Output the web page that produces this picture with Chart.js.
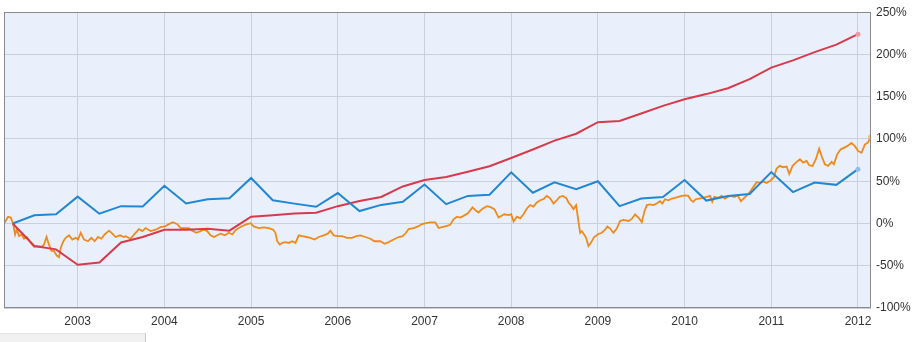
<!DOCTYPE html>
<html>
<head>
<meta charset="utf-8">
<script src="https://cdn.jsdelivr.net/npm/chart.js@4"></script>
<style>
    html, body { margin: 0; padding: 0; background: #fff; }
    #wrap { position: relative; width: 913px; height: 342px; }
    #scrollStub {
        position: absolute; left: 0; top: 333px; width: 145px; height: 9px;
        background: #f1f1f1; border-right: 1px solid #c8c8c8; border-top: 1px solid #e2e2e2;
    }
</style>
</head>
<body>
<div id="wrap">
    <canvas id="myChart" width="913" height="342"></canvas>
    <div id="scrollStub"></div>
</div>
<script>
// x axis in decimal years, y in percent change
const X_MIN = 2002.15;
const X_MAX = 2012.15;
const yearTicks = [2003, 2004, 2005, 2006, 2007, 2008, 2009, 2010, 2011, 2012];
const pctTicks = [-100, -50, 0, 50, 100, 150, 200, 250];

// quarter ends
const quarterYears = [
    2002.25, 2002.5, 2002.75, 2003.0, 2003.25, 2003.5, 2003.75, 2004.0,
    2004.25, 2004.5, 2004.75, 2005.0, 2005.25, 2005.5, 2005.75, 2006.0,
    2006.25, 2006.5, 2006.75, 2007.0, 2007.25, 2007.5, 2007.75, 2008.0,
    2008.25, 2008.5, 2008.75, 2009.0, 2009.25, 2009.5, 2009.75, 2010.0,
    2010.25, 2010.5, 2010.75, 2011.0, 2011.25, 2011.5, 2011.75, 2012.0
];

const bluePct = [
    0, 9.7, 10.8, 31.8, 11.6, 20.5, 20, 44.6,
    23.6, 28.7, 29.8, 53.8, 27.5, 23.5, 19.8, 36,
    14.7, 22, 25.6, 46.1, 22.9, 32.6, 34.1, 60.5,
    36.4, 48.8, 40.7, 50, 20.5, 29.5, 31.4, 51.5,
    27.1, 32.6, 34.9, 60.8, 37.2, 48.5, 45.7, 64.3
];

const redPct = [
    0, -26.7, -30.6, -48.8, -46.1, -22.5, -15.9, -7.4,
    -7.4, -6.2, -8.5, 8.1, 9.7, 11.8, 12.8, 20.5,
    26.7, 31.4, 43.8, 51.5, 55, 61.2, 67.8, 77.5,
    87.6, 98, 106.2, 119.8, 121.3, 130.2, 139.2, 146.9,
    153.1, 160.1, 170.9, 184.5, 193, 202.7, 211.6, 224
];

// daily price line
const dailyYears = [
    2002.151, 2002.197, 2002.228, 2002.255, 2002.278, 2002.297, 2002.324, 2002.351,
    2002.381, 2002.413, 2002.459, 2002.497, 2002.543, 2002.582, 2002.612, 2002.640,
    2002.669, 2002.697, 2002.727, 2002.758, 2002.785, 2002.804, 2002.835, 2002.862,
    2002.900, 2002.939, 2002.977, 2003.004, 2003.035, 2003.073, 2003.119, 2003.158,
    2003.196, 2003.234, 2003.273, 2003.311, 2003.361, 2003.400, 2003.438, 2003.487,
    2003.534, 2003.553, 2003.611, 2003.660, 2003.706, 2003.745, 2003.784, 2003.841,
    2003.899, 2003.956, 2004.006, 2004.052, 2004.098, 2004.149, 2004.187, 2004.236,
    2004.282, 2004.321, 2004.368, 2004.417, 2004.455, 2004.494, 2004.532, 2004.571,
    2004.610, 2004.648, 2004.697, 2004.743, 2004.783, 2004.820, 2004.859, 2004.905,
    2004.955, 2004.993, 2005.031, 2005.089, 2005.146, 2005.204, 2005.255, 2005.281,
    2005.301, 2005.331, 2005.358, 2005.396, 2005.435, 2005.474, 2005.512, 2005.550,
    2005.589, 2005.639, 2005.685, 2005.731, 2005.780, 2005.838, 2005.884, 2005.915,
    2005.953, 2005.999, 2006.050, 2006.107, 2006.165, 2006.214, 2006.261, 2006.318,
    2006.376, 2006.422, 2006.491, 2006.541, 2006.586, 2006.644, 2006.702, 2006.748,
    2006.787, 2006.817, 2006.875, 2006.925, 2006.971, 2007.018, 2007.067, 2007.125,
    2007.163, 2007.202, 2007.260, 2007.297, 2007.335, 2007.375, 2007.413, 2007.451,
    2007.501, 2007.554, 2007.585, 2007.623, 2007.670, 2007.720, 2007.770, 2007.808,
    2007.854, 2007.920, 2007.969, 2008.000, 2008.027, 2008.066, 2008.104, 2008.142,
    2008.181, 2008.219, 2008.257, 2008.296, 2008.334, 2008.372, 2008.411, 2008.450,
    2008.488, 2008.527, 2008.557, 2008.596, 2008.634, 2008.661, 2008.688, 2008.718,
    2008.749, 2008.776, 2008.795, 2008.815, 2008.841, 2008.864, 2008.891, 2008.918,
    2008.957, 2009.006, 2009.045, 2009.083, 2009.110, 2009.141, 2009.179, 2009.218,
    2009.256, 2009.294, 2009.352, 2009.391, 2009.429, 2009.467, 2009.506, 2009.536,
    2009.564, 2009.602, 2009.640, 2009.679, 2009.717, 2009.744, 2009.774, 2009.813,
    2009.852, 2009.890, 2009.928, 2009.967, 2010.005, 2010.043, 2010.074, 2010.100,
    2010.128, 2010.166, 2010.216, 2010.255, 2010.293, 2010.319, 2010.342, 2010.381,
    2010.428, 2010.466, 2010.497, 2010.535, 2010.573, 2010.612, 2010.650, 2010.688,
    2010.727, 2010.754, 2010.792, 2010.831, 2010.869, 2010.907, 2010.946, 2010.992,
    2011.030, 2011.061, 2011.099, 2011.137, 2011.177, 2011.207, 2011.246, 2011.292,
    2011.330, 2011.368, 2011.407, 2011.437, 2011.476, 2011.514, 2011.552, 2011.580,
    2011.618, 2011.656, 2011.695, 2011.722, 2011.759, 2011.799, 2011.837, 2011.875,
    2011.925, 2011.964, 2012.002, 2012.041, 2012.079, 2012.117, 2012.144
];

const dailyPct = [
    0, 8, 7, 0, -13, -7, -15, -13,
    -18, -16, -23, -27.5, -27, -27.5, -25, -16,
    -25, -32.5, -32.5, -38, -40, -29, -21, -17,
    -14, -19, -17, -19, -11, -19, -21, -17,
    -21, -16, -18, -13, -8.5, -12, -16, -14,
    -16, -15, -18, -12, -6.6, -9, -5.4, -9,
    -7.4, -4.3, -3.5, -0.8, 1.6, -0.8, -5.4, -5.4,
    -5.4, -8.5, -11, -9, -7.4, -9, -14, -16,
    -14, -12, -14, -11, -13, -8, -5.4, -2.7,
    -0.8, 0.4, -3.5, -5.4, -4.7, -5.4, -7.4, -11,
    -21, -25, -23, -22, -23, -21, -23, -14,
    -15, -16, -17, -19, -16, -14, -12, -8.5,
    -14, -15, -15, -17, -17, -15, -14, -16,
    -18, -21, -21, -24, -22, -19, -16, -15,
    -11, -6.6, -5.4, -3.5, -0.8, 0.4, 1.2, 1.2,
    -5.4, -4.3, -2.7, -1.6, 5, 8, 7, 9,
    12, 19, 16, 13, 17.5, 20.5, 19, 16.7,
    7, 10.9, 10, 11, 2.3, 8, 6, 11,
    17.8, 21.7, 20, 24.8, 27.5, 28.7, 32.6, 29.8,
    23.6, 27.5, 31.4, 32.6, 30.2, 24.8, 21.7, 17,
    21.7, 2.3, -11, -9, -13, -17, -26.7, -23,
    -16, -12.4, -11, -7.4, -3.5, -6, -11, -6,
    3, 4.3, 3, 5.4, 10.9, 7, 1.6, 14,
    21.7, 22.5, 21.7, 23.6, 26.4, 23.6, 28.7, 27.5,
    29.5, 30.2, 31.4, 32.6, 33.3, 32.6, 27.5, 25.6,
    28.7, 29.5, 30.2, 31.4, 32.6, 25.6, 31.4, 30.2,
    32.6, 29.5, 31.4, 32.6, 31.4, 33.3, 26.4, 30.2,
    34, 37.5, 43, 48.8, 48, 49.6, 48, 50.8,
    54.7, 65, 68.2, 66.6, 67.4, 58.5, 68.2, 72.9,
    76, 72, 74, 69, 68, 76, 88.4, 79.9,
    70.1, 68.2, 72.9, 70.1, 81.8, 87.6, 89.5, 91.5,
    95.3, 91.5, 85.7, 83.7, 93.4, 96, 102.3
];

const toPoints = (xs, ys) => xs.map((x, i) => ({ x: x, y: ys[i] }));

// only the last point of each line gets a small dot
const lastDot = (n) => Array.from({ length: n }, (_, i) => (i === n - 1 ? 2.5 : 0));

// light blue plot background plus a box around the whole plot area
const plotFrame = {
    id: "plotFrame",
    beforeDraw(chart) {
        const { ctx, chartArea: a } = chart;
        ctx.save();
        ctx.fillStyle = "#eaf0fb";
        ctx.fillRect(a.left, a.top, a.right - a.left, a.bottom - a.top);
        ctx.restore();
    },
    afterDraw(chart) {
        const { ctx, chartArea: a } = chart;
        ctx.save();
        ctx.strokeStyle = "#8a8a8a";
        ctx.lineWidth = 1;
        ctx.strokeRect(Math.round(a.left) + 0.5, Math.round(a.top) + 0.5,
            Math.round(a.right - a.left) - 1, Math.round(a.bottom - a.top) - 1);
        ctx.restore();
    }
};

const ctx = document.getElementById("myChart");
const newChart = new Chart(ctx, {
    type: "line",
    data: {
        datasets: [
            {
                label: "daily",
                data: toPoints(dailyYears, dailyPct),
                borderColor: "#f08a1c",
                borderWidth: 1.8,
                pointRadius: lastDot(dailyYears.length),
                pointBackgroundColor: "#f6b978",
                pointBorderWidth: 0,
                fill: false,
                order: 3,
            },
            {
                label: "red",
                data: toPoints(quarterYears, redPct),
                borderColor: "#d63a4c",
                borderWidth: 2,
                pointRadius: lastDot(quarterYears.length),
                pointBackgroundColor: "#ec9aa4",
                pointBorderWidth: 0,
                fill: false,
                order: 2,
            },
            {
                label: "blue",
                data: toPoints(quarterYears, bluePct),
                borderColor: "#2187d4",
                borderWidth: 2,
                pointRadius: lastDot(quarterYears.length),
                pointBackgroundColor: "#8cc0ea",
                pointBorderWidth: 0,
                fill: false,
                order: 1,
            },
        ],
    },
    options: {
        responsive: false,
        animation: false,
        layout: { padding: { left: 3, top: 6, right: 0, bottom: 0 } },
        plugins: {
            legend: { display: false },
            tooltip: { enabled: false },
        },
        elements: { line: { tension: 0 } },
        scales: {
            x: {
                type: "linear",
                min: X_MIN,
                max: X_MAX,
                afterBuildTicks: (scale) => {
                    scale.ticks = yearTicks.map((v) => ({ value: v }));
                },
                afterFit: (scale) => {
                    scale.height = 34;
                },
                grid: { color: "#c9d0dd", drawTicks: false },
                border: { display: false },
                ticks: {
                    padding: 6,
                    maxRotation: 0,
                    autoSkip: false,
                    color: "#333",
                    font: { family: "'Liberation Sans', Arial", size: 12 },
                    callback: (v) => String(v),
                },
            },
            y: {
                position: "right",
                min: -100,
                max: 250,
                afterBuildTicks: (scale) => {
                    scale.ticks = pctTicks.map((v) => ({ value: v }));
                },
                afterFit: (scale) => {
                    scale.width = 42;
                },
                grid: { color: "#c9d0dd", drawTicks: false },
                border: { display: false },
                ticks: {
                    padding: 5,
                    color: "#333",
                    font: { family: "'Liberation Sans', Arial", size: 12 },
                    callback: (v) => v + "%",
                },
            },
        },
    },
    plugins: [plotFrame],
});
</script>
</body>
</html>
